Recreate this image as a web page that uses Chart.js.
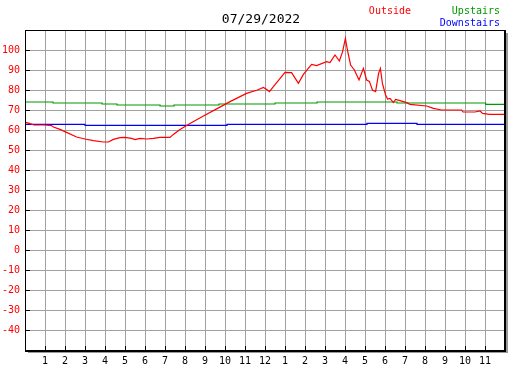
<!DOCTYPE html>
<html>
<head>
<meta charset="utf-8">
<script src="https://cdn.jsdelivr.net/npm/chart.js@4/dist/chart.umd.min.js"></script>
<style>
html,body{margin:0;padding:0;background:#fff;}
canvas{display:block;}
</style>
</head>
<body>
<canvas id="c" width="527" height="370" style="width:527px;height:370px"></canvas>
<script>
const titleText = "07/29/2022";
const seriesNames = ["Outside", "Upstairs", "Downstairs"];
const seriesColors = ["#ff0000", "#009900", "#0000ff"];

// hour of day (0-24) and temperature
const outsideHours = [0.0,0.25,0.45,1.0,1.33,1.42,1.75,2.08,2.58,3.0,3.42,3.92,4.17,4.42,4.75,5.0,5.33,5.5,5.75,6.08,6.42,6.75,7.25,7.42,7.75,8.08,8.25,8.92,9.72,10.25,11.08,11.62,11.92,12.05,12.22,12.42,13.0,13.33,13.67,13.92,14.33,14.58,15.08,15.25,15.5,15.72,15.88,16.02,16.12,16.28,16.47,16.7,16.92,17.08,17.22,17.37,17.53,17.68,17.77,17.87,18.03,18.13,18.25,18.42,18.53,18.75,19.08,19.25,20.08,20.42,20.83,21.83,21.9,22.5,22.75,22.88,23.22,23.95];
const outsideTemps = [64,63.2,62.5,62.5,62.2,61.5,60.3,58.8,56.5,55.5,54.7,54,54,55.3,56.2,56.3,55.8,55.2,55.8,55.5,55.8,56.3,56.3,57.8,60.3,62.2,63.3,67,71.3,74.2,78.3,80,81.3,80.5,79.2,81.7,88.8,88.7,83.3,87.8,92.8,92.2,94.2,93.7,97.5,94.5,99.2,105.8,100,92.5,90,85,90.8,85,84.3,80,79.2,88.3,90.8,83.3,77.5,75.5,75.8,73.7,75.3,74.7,73.7,72.8,72,70.8,70,70,69,69,69.5,68.3,67.8,67.8];

const upstairsHours = [0,1.4,3.85,4.6,6.75,7.45,9.7,12.5,14.6,18.6,23.03,23.95];
const upstairsTemps = [74,73.5,73,72.5,72,72.5,73,73.5,74,73.5,72.8,72.8];

const downstairsHours = [0,3.0,10.1,17.1,19.6,23.95];
const downstairsTemps = [62.8,62.3,62.8,63.3,62.8,62.8];

const xTickLabels = ["","1","2","3","4","5","6","7","8","9","10","11","12","1","2","3","4","5","6","7","8","9","10","11",""];
const yMin = -50, yMax = 110, yStep = 10;

const mono = "'DejaVu Sans Mono', 'Liberation Mono', monospace";

function pts(hs, vs){ return hs.map((h,i)=>({x:h,y:vs[i]})); }

const decor = {
  id: 'decor',
  afterDatasetsDraw(chart){
    const ctx = chart.ctx, a = chart.chartArea;
    const xs = chart.scales.x, ys = chart.scales.y;
    const L = Math.round(a.left), R = Math.round(a.right), T = Math.round(a.top), B = Math.round(a.bottom);
    ctx.save();
    ctx.fillStyle = '#000';
    // inner tick marks
    for (let v = yMin + yStep; v < yMax; v += yStep){
      const y = Math.round(ys.getPixelForValue(v));
      ctx.fillRect(L, y, 5, 1);
    }
    for (let h = 1; h < 24; h++){
      const x = Math.round(xs.getPixelForValue(h));
      ctx.fillRect(x, B - 4, 1, 4);
    }
    // frame
    ctx.fillRect(L, T, R - L, 1);
    ctx.fillRect(L, T, 1, B - T + 2);
    ctx.fillRect(R - 1, T, 2, B - T + 2);
    ctx.fillRect(L, B, R - L + 1, 2);
    // shadow
    ctx.fillStyle = '#999';
    ctx.fillRect(R + 1, T + 3, 2, B - T + 0);
    ctx.fillRect(L + 3, B + 2, R - L, 1);
    // title & legend
    ctx.textBaseline = 'middle';
    ctx.font = '13px ' + mono;
    ctx.fillStyle = '#000'; ctx.textAlign = 'center';
    ctx.fillText(titleText, 261, 20);
    ctx.font = '10px ' + mono;
    ctx.textAlign = 'right';
    ctx.fillStyle = seriesColors[0]; ctx.fillText(seriesNames[0], 411, 11);
    ctx.fillStyle = seriesColors[1]; ctx.fillText(seriesNames[1], 500, 11);
    ctx.fillStyle = seriesColors[2]; ctx.fillText(seriesNames[2], 500, 23);
    ctx.restore();
  }
};

new Chart(document.getElementById('c'), {
  type: 'line',
  data: {
    datasets: [
      {label: seriesNames[0], data: pts(outsideHours, outsideTemps), borderColor: seriesColors[0], borderWidth: 1.2, pointRadius: 0, tension: 0, fill: false},
      {label: seriesNames[1], data: pts(upstairsHours, upstairsTemps), borderColor: seriesColors[1], borderWidth: 1.2, pointRadius: 0, stepped: true, fill: false},
      {label: seriesNames[2], data: pts(downstairsHours, downstairsTemps), borderColor: seriesColors[2], borderWidth: 1.2, pointRadius: 0, stepped: true, fill: false}
    ]
  },
  options: {
    responsive: false,
    devicePixelRatio: 1,
    animation: false,
    layout: {padding: {top: 30, right: 22, bottom: 0, left: 0}},
    plugins: {legend: {display: false}, title: {display: false}, tooltip: {enabled: false}},
    scales: {
      x: {
        type: 'linear', min: 0, max: 24,
        afterFit(s){ s.height = 20; },
        grid: {color: '#a0a0a0', lineWidth: 1, drawTicks: false},
        border: {display: false},
        ticks: {stepSize: 1, autoSkip: false, maxRotation: 0, padding: 5, color: '#000',
          font: {family: mono, size: 10},
          callback: (v) => xTickLabels[Math.round(v)] ?? ''}
      },
      y: {
        min: yMin, max: yMax,
        afterFit(s){ s.width = 25; },
        grid: {color: '#a0a0a0', lineWidth: 1, drawTicks: false},
        border: {display: false},
        ticks: {stepSize: yStep, padding: 5, color: '#ff0000',
          font: {family: mono, size: 10},
          callback: (v) => (v === yMin || v === yMax) ? '' : String(v)}
      }
    }
  },
  plugins: [decor]
});
</script>
</body>
</html>
